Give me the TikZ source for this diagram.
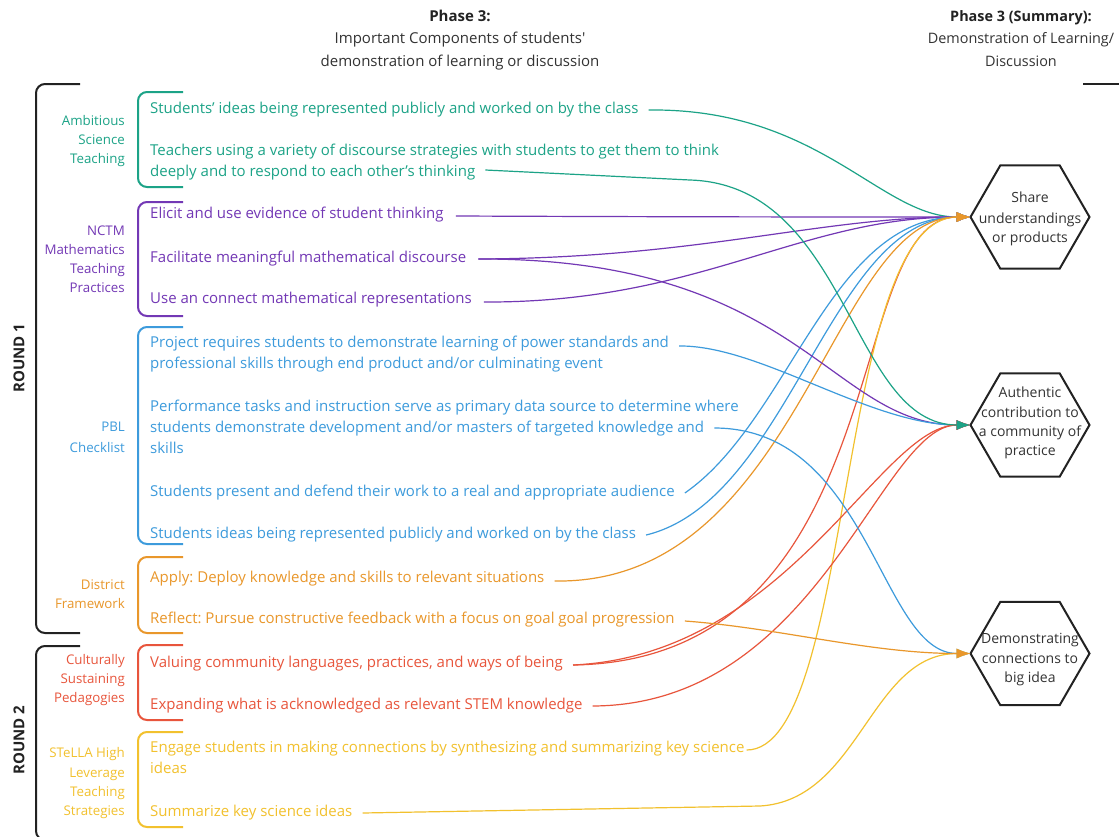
\documentclass[tikz,border=0pt]{standalone}
\usepackage{fontspec}
\setmainfont{Open Sans}[Ligatures=TeXOff]
\usetikzlibrary{shapes.geometric,arrows.meta,calc}
\definecolor{cTeal}{HTML}{1CA387}
\definecolor{cPurp}{HTML}{7338B5}
\definecolor{cBlue}{HTML}{3D9BDC}
\definecolor{cOrg}{HTML}{E9972B}
\definecolor{cRed}{HTML}{E8553C}
\definecolor{cYel}{HTML}{F2C12E}
\definecolor{cInk}{HTML}{222222}
\definecolor{cTxt}{HTML}{333333}
\frenchspacing
\begin{document}
\begin{tikzpicture}[x=1pt,y=-1pt,
 item/.style={anchor=base west, inner sep=0pt, font=\fontsize{15}{21}\selectfont},
 grp/.style={anchor=base east, inner sep=0pt, font=\fontsize{13.3}{19}\selectfont},
 head/.style={anchor=base, inner sep=0pt, text=cTxt, font=\fontsize{15}{22}\selectfont},
 headb/.style={anchor=base, inner sep=0pt, text=cInk, font=\fontsize{15}{22}\selectfont\bfseries},
 rhead/.style={anchor=base, inner sep=0pt, text=cTxt, font=\fontsize{14.4}{22}\selectfont},
 rheadb/.style={anchor=base, inner sep=0pt, text=cInk, font=\fontsize{14.4}{22}\selectfont\bfseries},
 roundlbl/.style={rotate=90, inner sep=0pt, text=cInk, font=\fontsize{15}{18}\selectfont\bfseries},
 hexlbl/.style={anchor=base, inner sep=0pt, text=cTxt, font=\fontsize{14}{20}\selectfont},
 hexbox/.style={regular polygon, regular polygon sides=6, minimum size=119pt, inner sep=0pt, outer sep=0pt, draw=cInk, line width=2pt},
 brk/.style={line width=2pt, rounded corners=9pt},
 conn/.style={line width=1.2pt, -{Latex[length=14pt,width=10pt]}},
]
\useasboundingbox (0,0) rectangle (1119,836);
\fill[white] (0,0) rectangle (1119,836);
\clip (0,0) rectangle (1119,836);

% headers
\node[headb] (h1) at (460,21) {Phase 3:};
\node[head] (h2) at (460,43) {Important Components of students'};
\node[head] (h3) at (460,66) {demonstration of learning or discussion};
\node[rheadb] (h4) at (1021,21) {Phase 3 (Summary):};
\node[rhead] (h5) at (1021,43) {Demonstration of Learning/};
\node[rhead] (h6) at (1021,66) {Discussion};
\draw[line width=2pt, cInk] (1083,84) -- (1125,84);

% round brackets
\draw[brk, cInk] (80,84) -- (36,84) -- (36,633) -- (80,633);
\draw[brk, cInk] (80,646) -- (36,646) -- (36,840) -- (80,840);
\node[roundlbl] (r1) at (19,358) {ROUND 1};
\node[roundlbl] (r2) at (19,740) {ROUND 2};

% group brackets
\draw[brk, cTeal] (183,92) -- (138,92) -- (138,187) -- (183,187);
\draw[brk, cPurp] (183,202) -- (138,202) -- (138,316) -- (183,316);
\draw[brk, cBlue] (183,327) -- (138,327) -- (138,544) -- (183,544);
\draw[brk, cOrg] (183,557) -- (138,557) -- (138,633) -- (183,633);
\draw[brk, cRed] (183,645) -- (138,645) -- (138,720) -- (183,720);
\draw[brk, cYel] (183,732) -- (138,732) -- (138,827) -- (183,827);

% group labels
\node[grp, text=cTeal] (g1a) at (125,125) {Ambitious};
\node[grp, text=cTeal] (g1b) at (125,144) {Science};
\node[grp, text=cTeal] (g1c) at (125,163) {Teaching};
\node[grp, text=cPurp] (g2a) at (125,235) {NCTM};
\node[grp, text=cPurp] (g2b) at (125,254) {Mathematics};
\node[grp, text=cPurp] (g2c) at (125,273) {Teaching};
\node[grp, text=cPurp] (g2d) at (125,292) {Practices};
\node[grp, text=cBlue] (g3a) at (125,431) {PBL};
\node[grp, text=cBlue] (g3b) at (125,452) {Checklist};
\node[grp, text=cOrg] (g4a) at (125,589) {District};
\node[grp, text=cOrg] (g4b) at (125,608) {Framework};
\node[grp, text=cRed] (g5a) at (125,664) {Culturally};
\node[grp, text=cRed] (g5b) at (125,683) {Sustaining};
\node[grp, text=cRed] (g5c) at (125,702) {Pedagogies};
\node[grp, text=cYel] (g6a) at (125,757) {STeLLA High};
\node[grp, text=cYel] (g6b) at (125,777) {Leverage};
\node[grp, text=cYel] (g6c) at (125,796) {Teaching};
\node[grp, text=cYel] (g6d) at (125,815) {Strategies};

% items
\node[item, text=cTeal] (ast1) at (150,113) {Students’ ideas being represented publicly and worked on by the class};
\node[item, text=cTeal] (ast2a) at (150,155) {Teachers using a variety of discourse strategies with students to get them to think};
\node[item, text=cTeal] (ast2b) at (150,176) {deeply and to respond to each other’s thinking};
\node[item, text=cPurp] (nc1) at (150,218) {Elicit and use evidence of student thinking};
\node[item, text=cPurp] (nc2) at (150,262) {Facilitate meaningful mathematical discourse};
\node[item, text=cPurp] (nc3) at (150,303) {Use an connect mathematical representations};
\node[item, text=cBlue] (pb1a) at (150,347) {Project requires students to demonstrate learning of power standards and};
\node[item, text=cBlue] (pb1b) at (150,368) {professional skills through end product and/or culminating event};
\node[item, text=cBlue] (pb2a) at (150,411) {Performance tasks and instruction serve as primary data source to determine where};
\node[item, text=cBlue] (pb2b) at (150,432) {students demonstrate development and/or masters of targeted knowledge and};
\node[item, text=cBlue] (pb2c) at (150,453) {skills};
\node[item, text=cBlue] (pb3) at (150,496) {Students present and defend their work to a real and appropriate audience};
\node[item, text=cBlue] (pb4) at (150,538) {Students ideas being represented publicly and worked on by the class};
\node[item, text=cOrg] (df1) at (150,582) {Apply: Deploy knowledge and skills to relevant situations};
\node[item, text=cOrg] (df2) at (150,623) {Reflect: Pursue constructive feedback with a focus on goal goal progression};
\node[item, text=cRed] (cs1) at (150,667) {Valuing community languages, practices, and ways of being};
\node[item, text=cRed] (cs2) at (150,709) {Expanding what is acknowledged as relevant STEM knowledge};
\node[item, text=cYel] (st1a) at (150,752) {Engage students in making connections by synthesizing and summarizing key science};
\node[item, text=cYel] (st1b) at (150,773) {ideas};
\node[item, text=cYel] (st2) at (150,816) {Summarize key science ideas};

% hexagons
\node[hexbox] (share) at (1030,217) {};
\node[hexbox] (auth) at (1030,425) {};
\node[hexbox] (demo) at (1030,653.5) {};
\node[hexlbl] (sh1) at (1030,202) {Share};
\node[hexlbl] (sh2) at (1030,223) {understandings};
\node[hexlbl] (sh3) at (1030,242) {or products};
\node[hexlbl] (au1) at (1030,397) {Authentic};
\node[hexlbl] (au2) at (1030,417) {contribution to};
\node[hexlbl] (au3) at (1030,436) {a community of};
\node[hexlbl] (au4) at (1030,455) {practice};
\node[hexlbl] (de1) at (1030,643) {Demonstrating};
\node[hexlbl] (de2) at (1030,663) {connections to};
\node[hexlbl] (de3) at (1030,682) {big idea};

% connectors to Share
\draw[conn, cTeal] ($(ast1.base east)+(10,-3)$) .. controls (820,108) and (880,217) .. (share.west);
\draw[conn, cPurp] ($(nc1.base east)+(12,-2)$) .. controls (700,217) and (850,217) .. (share.west);
\draw[conn, cPurp] ($(nc2.base east)+(12,-3)$) .. controls (700,258) and (820,217) .. (share.west);
\draw[conn, cPurp] ($(nc3.base east)+(12,-1)$) .. controls (700,303) and (800,217) .. (share.west);
\draw[conn, cBlue] ($(pb3.base east)+(10,-3)$) .. controls (790,420) and (830,217) .. (share.west);
\draw[conn, cBlue] ($(pb4.base east)+(10,-3)$) .. controls (790,500) and (830,217) .. (share.west);
\draw[conn, cRed] ($(cs1.base east)+(10,-2)$) .. controls (900,660) and (840,217) .. (share.west);
\draw[conn, cYel] ($(st1a.base east)+(2,-2)$) .. controls (855,750) and (835,217) .. (share.west);
\draw[conn, cOrg] ($(df1.base east)+(10,-1)$) .. controls (800,585) and (830,217) .. (share.west);

% connectors to Authentic
\draw[conn, cPurp] ($(nc2.base east)+(12,-3)$) .. controls (800,258) and (830,425) .. (auth.west);
\draw[conn, cBlue] ($(pb1a.base east)+(10,-1)$) .. controls (760,345) and (870,425) .. (auth.west);
\draw[conn, cRed] ($(cs1.base east)+(10,-2)$) .. controls (790,655) and (880,425) .. (auth.west);
\draw[conn, cRed] ($(cs2.base east)+(10,-3)$) .. controls (820,705) and (880,425) .. (auth.west);
\draw[conn, cTeal] ($(ast2b.base east)+(10,-6)$) -- (690,180) .. controls (850,185) and (850,425) .. (auth.west);

% connectors to Demonstrating
\draw[conn, cBlue] ($(pb2b.base east)+(10,-4)$) .. controls (870,428) and (880,653.5) .. (demo.west);
\draw[conn, cYel] ($(st2.base east)+(10,-3)$) -- (760,806) .. controls (860,800) and (870,653.5) .. (demo.west);
\draw[conn, cOrg] ($(df2.base east)+(10,-2)$) .. controls (780,628) and (870,653.5) .. (demo.west);
\end{tikzpicture}
\end{document}
